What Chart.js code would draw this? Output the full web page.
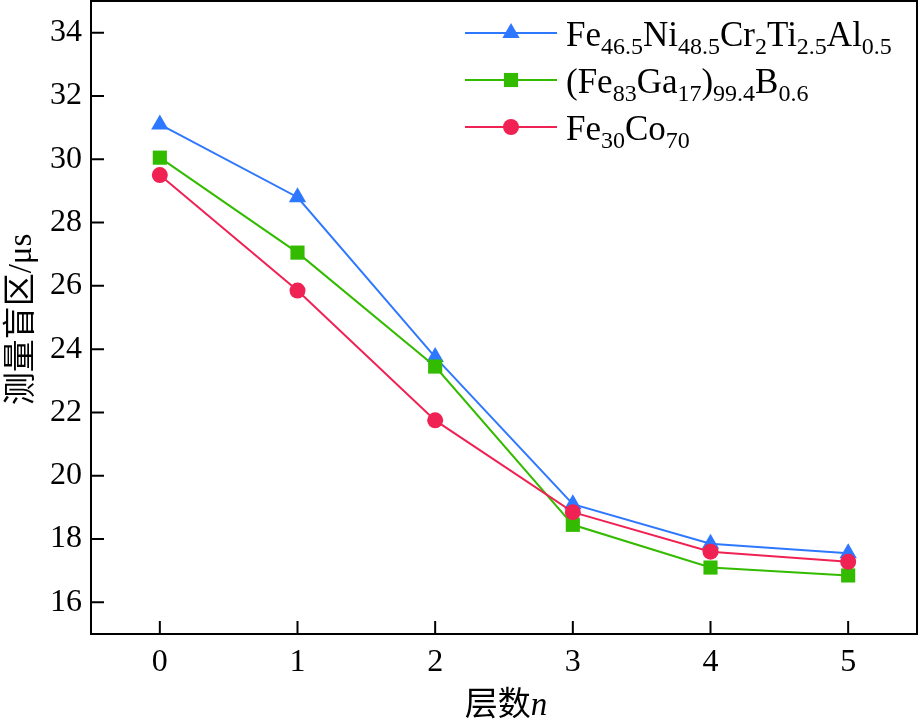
<!DOCTYPE html>
<html>
<head>
<meta charset="utf-8">
<script src="https://cdn.jsdelivr.net/npm/chart.js@4"></script>
<style>
html,body{margin:0;padding:0;background:#fff;}
#wrap{width:919px;height:726px;position:relative;}
</style>
</head>
<body>
<div id="wrap"><canvas id="c"></canvas></div>
<script>
// ---- data ----
const layers = ['0', '1', '2', '3', '4', '5'];
const feNiCrTiAl = [31.1, 28.8, 23.75, 19.1, 17.85, 17.55];
const feGaB = [30.05, 27.05, 23.45, 18.45, 17.1, 16.85];
const feCo = [29.5, 25.85, 21.75, 18.85, 17.6, 17.28];
const yTicks = [16, 18, 20, 22, 24, 26, 28, 30, 32, 34];
const yMin = 15, yMax = 35;

// legend names as runs (normal / subscript)
const nameFeNi = [['Fe'], ['46.5', 1], ['Ni'], ['48.5', 1], ['Cr'], ['2', 1], ['Ti'], ['2.5', 1], ['Al'], ['0.5', 1]];
const nameFeGa = [['(Fe'], ['83', 1], ['Ga'], ['17', 1], [')'], ['99.4', 1], ['B'], ['0.6', 1]];
const nameFeCo = [['Fe'], ['30', 1], ['Co'], ['70', 1]];
const xTitle = [['层数', 'cjk'], ['n', 'it']];
const yTitle = [['测量盲区', 'cjk'], ['/μs', 'serif']];

const BLUE = 'rgb(46,120,255)', GREEN = 'rgb(51,187,0)', RED = 'rgb(240,34,84)';
const SERIF = "'Liberation Serif','Times New Roman',serif";
const CJK = "'Noto Sans CJK SC',sans-serif";

function drawSubRuns(ctx, runs, x, y, size, subSize, drop) {
  let cx = x;
  for (const r of runs) {
    ctx.font = (r[1] ? subSize : size) + 'px ' + SERIF;
    ctx.fillText(r[0], cx, r[1] ? y + drop : y);
    cx += ctx.measureText(r[0]).width;
  }
}
function fontFor(kind, size) {
  if (kind === 'cjk') return size + 'px ' + CJK;
  if (kind === 'it') return 'italic ' + size + 'px ' + SERIF;
  return size + 'px ' + SERIF;
}
function drawTitleRuns(ctx, runs, cx, y, size) {
  let total = 0;
  for (const r of runs) { ctx.font = fontFor(r[1], size); total += ctx.measureText(r[0]).width; }
  let x = cx - total / 2;
  for (const r of runs) {
    ctx.font = fontFor(r[1], size);
    ctx.fillText(r[0], x, y);
    x += ctx.measureText(r[0]).width;
  }
}

const framePlugin = {
  id: 'frame',
  afterDraw(chart) {
    const ctx = chart.ctx, a = chart.chartArea;
    const xs = chart.scales.x, ys = chart.scales.y;
    ctx.save();
    ctx.strokeStyle = '#000';
    ctx.lineWidth = 2;
    ctx.strokeRect(a.left, a.top, a.right - a.left, a.bottom - a.top);
    ctx.beginPath();
    xs.ticks.forEach((t, i) => {
      const px = xs.getPixelForTick(i);
      ctx.moveTo(px, a.bottom); ctx.lineTo(px, a.bottom - 13);
    });
    ys.ticks.forEach((t, i) => {
      const py = ys.getPixelForTick(i);
      ctx.moveTo(a.left, py); ctx.lineTo(a.left + 13, py);
    });
    ctx.stroke();

    // titles
    ctx.fillStyle = '#000';
    ctx.textBaseline = 'alphabetic';
    ctx.textAlign = 'left';
    drawTitleRuns(ctx, xTitle, (a.left + a.right) / 2 + 2, 715, 33);
    ctx.save();
    ctx.translate(31, (a.top + a.bottom) / 2 + 2);
    ctx.rotate(-Math.PI / 2);
    drawTitleRuns(ctx, yTitle, 0, 0, 33);
    ctx.restore();

    // legend
    const items = [
      { ds: chart.data.datasets[2], name: nameFeNi },
      { ds: chart.data.datasets[1], name: nameFeGa },
      { ds: chart.data.datasets[0], name: nameFeCo }
    ];
    const lx0 = 465, lx1 = 557, tx = 566;
    items.forEach((it, i) => {
      const y = 33 + i * 47;
      ctx.strokeStyle = it.ds.borderColor;
      ctx.fillStyle = it.ds.backgroundColor;
      ctx.lineWidth = 2;
      ctx.beginPath(); ctx.moveTo(lx0, y); ctx.lineTo(lx1, y); ctx.stroke();
      Chart.helpers.drawPoint(ctx, { pointStyle: it.ds.pointStyle, radius: it.ds.pointRadius, rotation: 0, borderWidth: 0 }, (lx0 + lx1) / 2, y);
      ctx.fillStyle = '#000';
      drawSubRuns(ctx, it.name, tx, y + 13, 35, 24, 8);
    });
    ctx.restore();
  }
};

function zeroPad(s) { s.paddingTop = 0; s.paddingBottom = 0; s.paddingLeft = 0; s.paddingRight = 0; }

new Chart(document.getElementById('c'), {
  type: 'line',
  data: {
    labels: layers,
    datasets: [
      { label: 'Fe30Co70', data: feCo, borderColor: RED, backgroundColor: RED, pointStyle: 'circle', pointRadius: 8, borderWidth: 2, pointBorderWidth: 0, order: 0 },
      { label: '(Fe83Ga17)99.4B0.6', data: feGaB, borderColor: GREEN, backgroundColor: GREEN, pointStyle: 'rect', pointRadius: 10, borderWidth: 2, pointBorderWidth: 0, order: 1 },
      { label: 'Fe46.5Ni48.5Cr2Ti2.5Al0.5', data: feNiCrTiAl, borderColor: BLUE, backgroundColor: BLUE, pointStyle: 'triangle', pointRadius: 10, borderWidth: 2, pointBorderWidth: 0, order: 2 }
    ]
  },
  options: {
    responsive: true,
    maintainAspectRatio: false,
    animation: false,
    devicePixelRatio: 1,
    layout: { autoPadding: false, padding: { top: 1, right: 2, left: 0, bottom: 0 } },
    plugins: { legend: { display: false }, tooltip: { enabled: false } },
    scales: {
      x: {
        type: 'category',
        offset: true,
        grid: { display: false, drawTicks: false },
        border: { display: false },
        ticks: { color: '#000', font: { family: SERIF, size: 32 }, padding: 9, maxRotation: 0 },
        afterFit(s) { s.height = 92; zeroPad(s); }
      },
      y: {
        type: 'linear',
        min: yMin, max: yMax,
        grid: { display: false, drawTicks: false },
        border: { display: false },
        ticks: { color: '#000', font: { family: SERIF, size: 32 }, padding: 9 },
        afterBuildTicks(s) { s.ticks = yTicks.map(v => ({ value: v })); },
        afterFit(s) { s.width = 91; zeroPad(s); }
      }
    }
  },
  plugins: [framePlugin]
});
</script>
</body>
</html>
